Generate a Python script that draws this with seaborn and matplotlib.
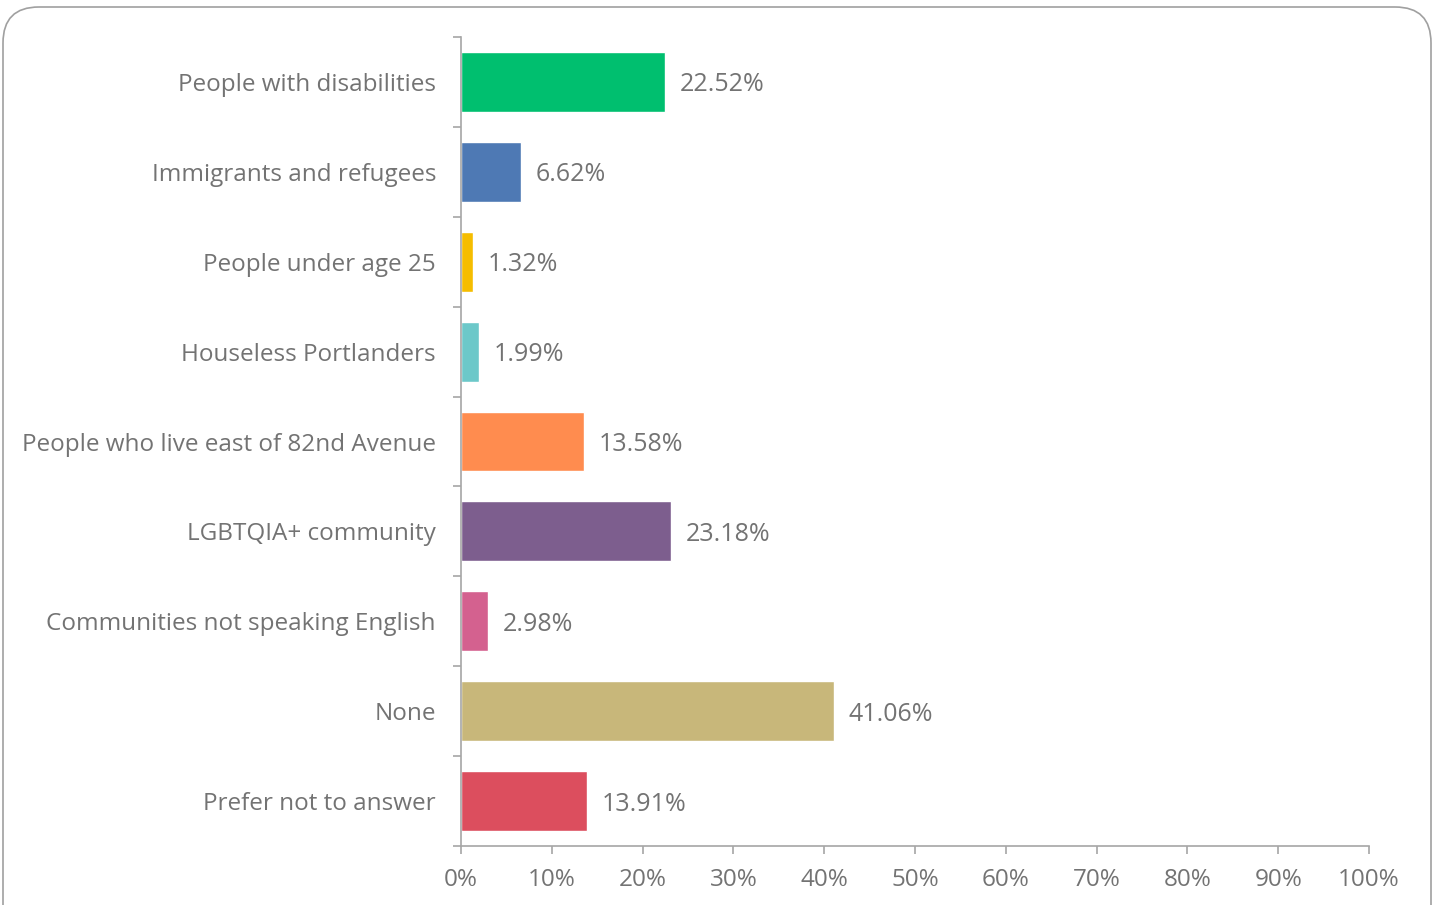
import numpy as np
import pandas as pd
import matplotlib
matplotlib.use('Agg')
import matplotlib.pyplot as plt
import seaborn as sns
from matplotlib.patches import FancyBboxPatch
from matplotlib.ticker import FuncFormatter

categories = ['People with disabilities', 'Immigrants and refugees', 'People under age 25',
              'Houseless Portlanders', 'People who live east of 82nd Avenue', 'LGBTQIA+ community',
              'Communities not speaking English', 'None', 'Prefer not to answer']
values = [22.52, 6.62, 1.32, 1.99, 13.58, 23.18, 2.98, 41.06, 13.91]
colors = ['#00BF6F', '#4E79B4', '#F5BD00', '#6CC8C9', '#FF8C4F',
          '#7D5E8E', '#D4618F', '#C8B77A', '#DC4E5E']

df = pd.DataFrame({'group': categories, 'pct': values})

sns.set_theme(style='white')
plt.rcParams['font.family'] = ['Open Sans', 'DejaVu Sans']

text_col = '#737373'
axis_col = '#A6A6A6'
fs = 17.5

fig = plt.figure(figsize=(14.35, 9.05), dpi=100)
ax = fig.add_axes([461 / 1435, 1 - 846 / 905, (1369 - 461) / 1435, (846 - 37) / 905])

sns.barplot(data=df, x='pct', y='group', hue='group', palette=colors, legend=False,
            width=0.667, saturation=1, ax=ax)

for i, v in enumerate(values):
    ax.text(v + 1.6, i, f'{v:.2f}%', va='center_baseline', ha='left', fontsize=18, color=text_col)

ax.set_xlim(0, 100)
ax.set_ylim(8.5, -0.5)
ax.set_xticks(np.arange(0, 101, 10))
ax.xaxis.set_major_formatter(FuncFormatter(lambda x, p: f'{x:.0f}%'))
ax.set_yticks(np.arange(-0.5, 9, 1), minor=True)
ax.tick_params(left=True, bottom=True, which='both')
ax.tick_params(axis='y', which='major', length=0, pad=18, labelsize=fs, labelcolor=text_col)
ax.tick_params(axis='y', which='minor', length=6, width=1.2, color=axis_col, direction='out')
ax.tick_params(axis='x', which='major', length=6, width=1.2, color=axis_col, direction='out',
               pad=10, labelsize=fs, labelcolor=text_col)
ax.set_xlabel('')
ax.set_ylabel('')

for s in ['top', 'right']:
    ax.spines[s].set_visible(False)
for s in ['left', 'bottom']:
    ax.spines[s].set_color(axis_col)
    ax.spines[s].set_linewidth(1.2)

border = FancyBboxPatch((3 / 1435, -0.05), 1428 / 1435, 1 - 7 / 905 + 0.05,
                        boxstyle='round,pad=0,rounding_size=0.025',
                        transform=fig.transFigure, fill=False,
                        edgecolor='#A0A0A0', linewidth=1.2, mutation_aspect=1435 / 905)
fig.patches.append(border)

fig.savefig('out.png', dpi=100)
